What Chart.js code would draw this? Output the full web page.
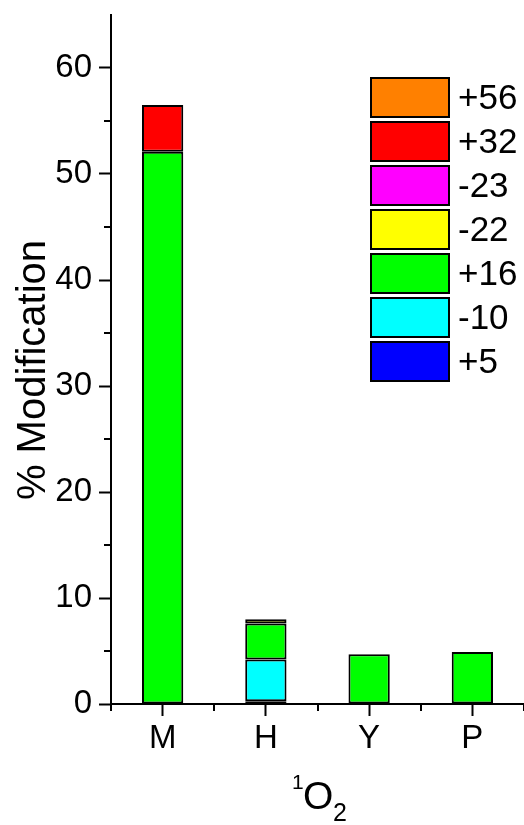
<!DOCTYPE html>
<html>
<head>
<meta charset="utf-8">
<script src="https://cdn.jsdelivr.net/npm/chart.js@4.4.1/dist/chart.umd.min.js"></script>
<style>
  html, body { margin: 0; padding: 0; background: #fff; }
  #wrap { width: 524px; height: 825px; }
</style>
</head>
<body>
<div id="wrap"><canvas id="mod-chart"></canvas></div>
<script>
const categories = ["M", "H", "Y", "P"];

// stacked from bottom to top
const plus5 = [null, 0.25, null, null];
const minus10 = [null, 3.95, null, null];
const plus16 = [52.1, 3.4, 4.7, 4.9];
const minus22 = [null, 0.4, null, null];
const minus23 = [null, null, null, null];
const plus32 = [4.4, null, null, null];
const plus56 = [null, null, null, null];

const seriesLabels = ["+5", "-10", "+16", "-22", "-23", "+32", "+56"];
const seriesColors = ["#0000ff", "#00ffff", "#00ff00", "#ffff00", "#ff00ff", "#ff0000", "#ff8000"];
const seriesValues = [plus5, minus10, plus16, minus22, minus23, plus32, plus56];

const yTicks = [0, 10, 20, 30, 40, 50, 60];

const FONT = "'Liberation Sans', Arial, sans-serif";

const datasets = seriesValues.map((vals, i) => ({
  label: seriesLabels[i],
  data: vals,
  backgroundColor: seriesColors[i],
  borderColor: "#000",
  borderWidth: 2,
  borderSkipped: false,
  barPercentage: 0.4,
  categoryPercentage: 1,
}));

// minor ticks, legend and axis titles
const extras = {
  id: "extras",
  afterDraw(chart) {
    const ctx = chart.ctx;
    const x = chart.scales.x;
    const y = chart.scales.y;
    ctx.save();
    ctx.strokeStyle = "#000";
    ctx.lineWidth = 2;
    // y minor ticks
    for (let v = 5; v < 65; v += 10) {
      const py = Math.round(y.getPixelForValue(v));
      ctx.beginPath();
      ctx.moveTo(x.left, py);
      ctx.lineTo(x.left - 7, py);
      ctx.stroke();
    }
    // x minor ticks between categories
    for (let i = 0; i <= categories.length; i++) {
      const px = Math.round(x.getPixelForValue(i - 0.5));
      ctx.beginPath();
      ctx.moveTo(px, y.bottom);
      ctx.lineTo(px, y.bottom + 7);
      ctx.stroke();
    }

    // legend, top entry is last dataset
    ctx.font = "35px " + FONT;
    ctx.textBaseline = "middle";
    ctx.textAlign = "left";
    ctx.lineWidth = 2;
    for (let k = 0; k < seriesLabels.length; k++) {
      const i = seriesLabels.length - 1 - k;
      const top = 78 + k * 44;
      ctx.fillStyle = seriesColors[i];
      ctx.fillRect(371, top, 78, 39);
      ctx.strokeStyle = "#000";
      ctx.strokeRect(371, top, 78, 39);
      ctx.fillStyle = "#000";
      ctx.fillText(seriesLabels[i], 458, top + 21);
    }

    // y title
    ctx.save();
    ctx.translate(34, 370);
    ctx.rotate(-Math.PI / 2);
    ctx.textAlign = "center";
    ctx.textBaseline = "middle";
    ctx.font = "40px " + FONT;
    ctx.fillText("% Modification", 0, 0);
    ctx.restore();

    // x title 1O2
    ctx.textBaseline = "alphabetic";
    ctx.textAlign = "left";
    ctx.font = "21px " + FONT;
    ctx.fillText("1", 292, 789);
    ctx.font = "39px " + FONT;
    ctx.fillText("O", 303, 809);
    ctx.font = "25px " + FONT;
    ctx.fillText("2", 333, 821);
    ctx.restore();
  },
};

const ctx = document.getElementById("mod-chart");
const modChart = new Chart(ctx, {
  type: "bar",
  data: { labels: categories, datasets: datasets },
  options: {
    responsive: true,
    maintainAspectRatio: false,
    animation: false,
    layout: { padding: { top: 15, right: 0, left: 0, bottom: 0 } },
    plugins: {
      legend: { display: false },
      tooltip: { enabled: false },
    },
    scales: {
      x: {
        stacked: true,
        offset: true,
        grid: {
          offset: false,
          drawOnChartArea: false,
          drawTicks: true,
          tickLength: 12,
          tickColor: "#000",
          tickWidth: 2,
        },
        border: { color: "#000", width: 2 },
        ticks: {
          color: "#000",
          font: { family: FONT, size: 33 },
          padding: 3,
          maxRotation: 0,
        },
        afterFit(scale) {
          scale.height = 121;
          scale.paddingLeft = 0;
          scale.paddingRight = 0;
        },
      },
      y: {
        stacked: true,
        min: 0,
        max: 65,
        grid: {
          drawOnChartArea: false,
          drawTicks: true,
          tickLength: 12,
          tickColor: "#000",
          tickWidth: 2,
        },
        border: { color: "#000", width: 2 },
        ticks: {
          stepSize: 10,
          includeBounds: false,
          color: "#000",
          font: { family: FONT, size: 33 },
          padding: 7,
          callback: (v) => (yTicks.includes(v) ? String(v) : ""),
        },
        afterFit(scale) {
          scale.width = 111;
          scale.paddingTop = 0;
          scale.paddingBottom = 0;
        },
      },
    },
  },
  plugins: [extras],
});
</script>
</body>
</html>
